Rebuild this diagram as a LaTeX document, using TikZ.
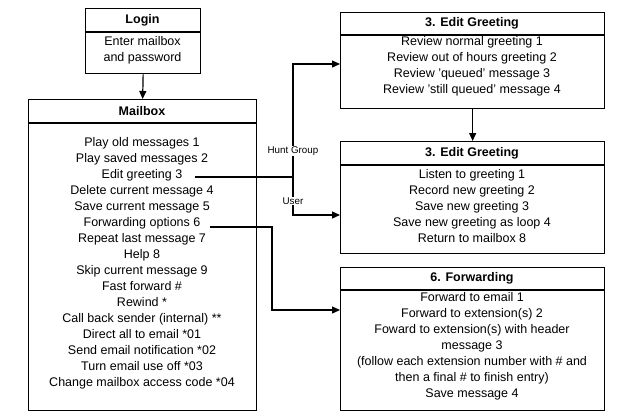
\documentclass[tikz,border=0pt]{standalone}
\usepackage{fontspec}
\setmainfont{Liberation Sans}
\usetikzlibrary{arrows.meta}
\begin{document}
\begin{tikzpicture}[x=1pt,y=-1pt,
  box/.style={draw,line width=1.3pt,rectangle,anchor=north west,inner sep=0pt},
  hdr/.style={font=\fontsize{12.5}{16}\selectfont\bfseries,anchor=center},
  body/.style={font=\fontsize{12.5}{16}\selectfont,align=center,anchor=north,inner sep=0pt},
  con/.style={line width=1.2pt},
  arr/.style={con,-{Triangle[length=8pt,width=7pt]}},
  lbl/.style={font=\fontsize{9.8}{11}\selectfont,fill=white,inner sep=1pt}]
\useasboundingbox (0,0) rectangle (642,418);
% Login
\node[box,minimum width=115pt,minimum height=65pt] (login) at (85,8) {};
\draw[line width=1.1pt] (85,32) -- (200,32);
\node[hdr] at (142.5,20) {Login};
\node[body] at (142.5,36) {Enter mailbox\\and password};
% Mailbox
\node[box,minimum width=228pt,minimum height=311pt] (mail) at (28,99) {};
\draw[line width=1.1pt] (28,123) -- (256,123);
\node[hdr] at (142,111) {Mailbox};
\node[body] (mtext) at (142,137) {Play old messages 1\\Play saved messages 2\\Edit greeting 3\\Delete current message 4\\Save current message 5\\Forwarding options 6\\Repeat last message 7\\Help 8\\Skip current message 9\\Fast forward \#\\Rewind *\\Call back sender (internal) **\\Direct all to email *01\\Send email notification *02\\Turn email use off *03\\Change mailbox access code *04};
% Edit greeting 1
\node[box,minimum width=264pt,minimum height=96pt] (eg1) at (340,12) {};
\draw[line width=1.1pt] (340,35) -- (604,35);
\node[hdr] at (472,23.5) {3. Edit Greeting};
\node[body] at (472,36) {Review normal greeting 1\\Review out of hours greeting 2\\Review 'queued' message 3\\Review 'still queued' message 4};
% Edit greeting 2
\node[box,minimum width=264pt,minimum height=112pt] (eg2) at (340,141) {};
\draw[line width=1.1pt] (340,165) -- (604,165);
\node[hdr] at (472,153) {3. Edit Greeting};
\node[body] at (472,169) {Listen to greeting 1\\Record new greeting 2\\Save new greeting 3\\Save new greeting as loop 4\\Return to mailbox 8};
% Forwarding
\node[box,minimum width=264pt,minimum height=143pt] (fwd) at (340,267) {};
\draw[line width=1.1pt] (340,290) -- (604,290);
\node[hdr] at (472,278) {6. Forwarding};
\node[body] at (472,292) {Forward to email 1\\Forward to extension(s) 2\\Foward to extension(s) with header\\message 3\\(follow each extension number with \# and\\then a final \# to finish entry)\\Save message 4};
% connectors
\coordinate (eg3) at (195,177);
\coordinate (fo6) at (210,227);
\coordinate (br) at (293,177);
\draw[arr] (login.south) -- (mail.north);
\draw[arr] (eg1.south) -- (eg2.north);
\draw[con] (eg3) -- (br);
\draw[arr] (br) -- (293,64) -- (eg1.west |- 0,64);
\draw[arr] (br) -- (293,215) -- (eg2.west |- 0,215);
\draw[arr] (fo6) -- (272,227) -- (272,310) -- (fwd.west |- 0,310);
\node[lbl] at (293,151) {Hunt Group};
\node[lbl] at (293,201) {User};
\end{tikzpicture}
\end{document}
